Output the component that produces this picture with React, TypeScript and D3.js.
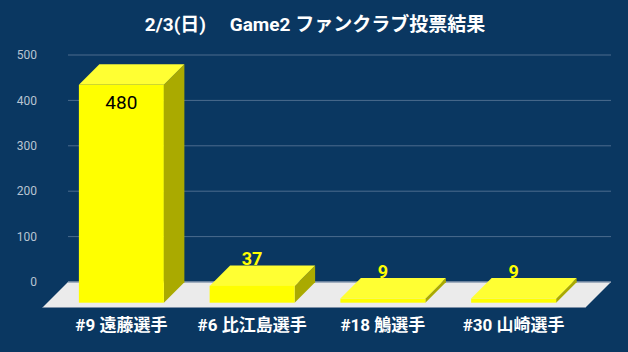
import React from "react";
import * as d3 from "d3";

const title = "2/3(日)\u3000 Game2 ファンクラブ投票結果";
const players = ["#9 遠藤選手", "#6 比江島選手", "#18 鵤選手", "#30 山崎選手"];
const votes = [480, 37, 9, 9];
const yTicks = [0, 100, 200, 300, 400, 500];

const W = 628;
const H = 352;
const FONT = "Roboto, 'Noto Sans CJK JP', sans-serif";

const App = () => {
  // back plane (gridlines) and floor
  const backLeft = 68;
  const backRight = 611;
  const floorDepth = 25.5;
  const barDepth = 20.5;

  const yBack = d3.scaleLinear().domain([0, 500]).range([282, 55]);
  // front face of bars sits a bit in front of the back plane
  const yFront = d3.scaleLinear().domain([0, 500]).range([302.7, 302.7 - 227]);

  const x = d3
    .scaleBand<string>()
    .domain(players)
    .range([56, 579])
    .paddingInner(0.35)
    .paddingOuter(0.175);

  const floorY0 = yBack(0);
  const floorY1 = floorY0 + floorDepth;

  return (
    <svg width={W} height={H} style={{ display: "block", position: "absolute", left: 0, top: 0 }}>
      <rect width={W} height={H} fill="#0a3761" />
      <text x={315} y={31} textAnchor="middle" fill="#fff" fontFamily={FONT} fontWeight="bold" fontSize={19}>
        {title}
      </text>

      {/* gridlines + y labels */}
      {yTicks.map((t) => (
        <g key={t}>
          {t > 0 && (
            <line x1={backLeft} x2={backRight} y1={yBack(t)} y2={yBack(t)} stroke="#4c6c8e" strokeWidth={1} />
          )}
          <text x={37} y={yBack(t)} dy="0.35em" textAnchor="end" fill="#b8c4d2" fontFamily={FONT} fontSize={12}>
            {t}
          </text>
        </g>
      ))}

      {/* floor */}
      <polygon
        points={`${backLeft},${floorY0} ${backRight},${floorY0} ${backRight - floorDepth},${floorY1} ${backLeft - floorDepth},${floorY1}`}
        fill="#ebebeb"
      />
      <line x1={backLeft} x2={backRight} y1={floorY0} y2={floorY0} stroke="#8a9bb0" strokeWidth={1.5} />
      <line x1={backLeft - floorDepth} x2={backRight - floorDepth} y1={floorY1} y2={floorY1} stroke="#7d8fa5" strokeWidth={1} />

      {/* bars */}
      {players.map((p, i) => {
        const x0 = x(p)!;
        const x1 = x0 + x.bandwidth();
        const yb = yFront(0);
        const yt = yFront(votes[i]);
        const d = barDepth;
        const cx = (x0 + x1) / 2;
        const inside = yb - yt > 30;
        return (
          <g key={p}>
            <polygon points={`${x1},${yb} ${x1 + d},${yb - d} ${x1 + d},${yt - d} ${x1},${yt}`} fill="#aaaa00" />
            <polygon points={`${x0},${yt} ${x1},${yt} ${x1 + d},${yt - d} ${x0 + d},${yt - d}`} fill="#ffff33" />
            <rect x={x0} y={yt} width={x1 - x0} height={yb - yt} fill="#ffff00" />
            {inside ? (
              <text x={cx} y={yt + 24} textAnchor="middle" fill="#000" fontFamily={FONT} fontSize={19}>
                {votes[i]}
              </text>
            ) : (
              <text x={cx} y={yt - d} textAnchor="middle" fill="#ffff00" fontFamily={FONT} fontWeight="bold" fontSize={18}>
                {votes[i]}
              </text>
            )}
            <text x={cx} y={331} textAnchor="middle" fill="#fff" fontFamily={FONT} fontWeight="bold" fontSize={17}>
              {p}
            </text>
          </g>
        );
      })}
    </svg>
  );
};

export default App;
